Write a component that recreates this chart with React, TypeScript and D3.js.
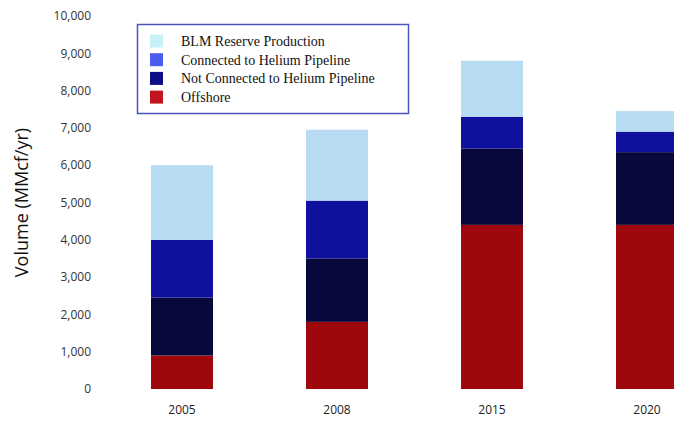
import React from "react";
import * as d3 from "d3";

const years = ["2005", "2008", "2015", "2020"];
const seriesNames = [
  "Offshore",
  "Not Connected to Helium Pipeline",
  "Connected to Helium Pipeline",
  "BLM Reserve Production",
];
const offshore = [900, 1800, 4400, 4400];
const notConnected = [1550, 1700, 2050, 1950];
const connected = [1550, 1550, 850, 550];
const blmReserve = [2000, 1900, 1500, 550];
const yTicks = [0, 1000, 2000, 3000, 4000, 5000, 6000, 7000, 8000, 9000, 10000];

const barColors = ["#9e080c", "#08083c", "#10109e", "#b6dbf3"];
const swatchColors = ["#c0141e", "#0d0d85", "#4a5ff0", "#c6f2f6"];

const W = 674;
const H = 424;

export default function App() {
  const rows = years.map((y, i) => ({
    year: y,
    s0: offshore[i],
    s1: notConnected[i],
    s2: connected[i],
    s3: blmReserve[i],
  }));
  const stack = d3.stack<any>().keys(["s0", "s1", "s2", "s3"]);
  const layers = stack(rows);

  const x = d3.scaleBand().domain(years).range([104.5, 724.5]).paddingInner(0.6).paddingOuter(0.3);
  const y = d3.scaleLinear().domain([0, 10000]).range([389, 16]);
  const fmt = d3.format(",");

  const legendOrder = [3, 2, 1, 0];

  return (
    <svg width={W} height={H} style={{ position: "absolute", left: 0, top: 0, background: "#fff" }}>
      {/* y tick labels */}
      {yTicks.map((t) => (
        <text
          key={t}
          x={91}
          y={y(t)}
          dy="0.35em"
          textAnchor="end"
          fontFamily="'Open Sans', sans-serif"
          fontSize={12}
          fill="#333"
        >
          {fmt(t)}
        </text>
      ))}
      <text
        transform={`translate(28,${y(5000)}) rotate(-90)`}
        textAnchor="middle"
        fontFamily="'Open Sans', sans-serif"
        fontSize={18}
        fill="#111"
      >
        Volume (MMcf/yr)
      </text>

      {/* stacked bars */}
      {layers.map((layer, li) => (
        <g key={li} fill={barColors[li]}>
          {layer.map((d, i) => (
            <rect
              key={i}
              x={x(years[i])!}
              width={x.bandwidth()}
              y={y(d[1])}
              height={y(d[0]) - y(d[1])}
            />
          ))}
        </g>
      ))}

      {/* category labels */}
      {years.map((yr) => (
        <text
          key={yr}
          x={x(yr)! + x.bandwidth() / 2}
          y={414}
          textAnchor="middle"
          fontFamily="'Open Sans', sans-serif"
          fontSize={12}
          fill="#222"
        >
          {yr}
        </text>
      ))}

      {/* legend */}
      <rect x={137.5} y={24.5} width={271} height={89} fill="#fff" stroke="#4a55c0" strokeWidth={1.5} />
      {legendOrder.map((si, k) => (
        <g key={si} transform={`translate(150,${41 + k * 18.7})`}>
          <rect x={0} y={-6.5} width={13} height={13} fill={swatchColors[si]} />
          <text
            x={31}
            y={0}
            dy="0.35em"
            fontFamily="'Liberation Serif', 'Times New Roman', serif"
            fontSize={14}
            fill="#111"
          >
            {seriesNames[si]}
          </text>
        </g>
      ))}
    </svg>
  );
}
